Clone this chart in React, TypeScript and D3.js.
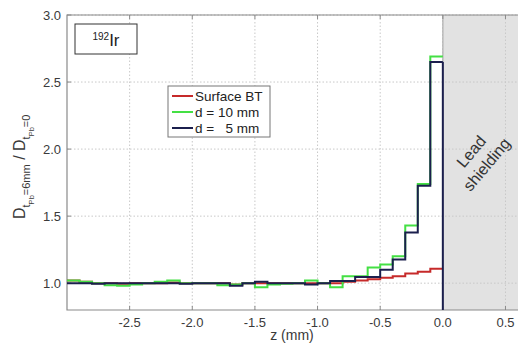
import React from "react";
import * as d3 from "d3";

// Bin left edges (mm), 0.1 mm bins from -3.0 to 0.0
const binStarts: number[] = [
  -3.0, -2.9, -2.8, -2.7, -2.6, -2.5, -2.4, -2.3, -2.2, -2.1,
  -2.0, -1.9, -1.8, -1.7, -1.6, -1.5, -1.4, -1.3, -1.2, -1.1,
  -1.0, -0.9, -0.8, -0.7, -0.6, -0.5, -0.4, -0.3, -0.2, -0.1,
];
const binEnd = 0.0;

const surfaceBT: number[] = [
  1.02, 1.01, 1.0, 1.0, 0.995, 1.0, 1.0, 1.0, 1.005, 1.0,
  1.0, 1.0, 1.0, 0.99, 1.0, 1.0, 1.0, 1.0, 1.0, 1.0,
  1.0, 1.0, 1.01, 1.02, 1.03, 1.04, 1.052, 1.072, 1.085, 1.107,
];
const d10mm: number[] = [
  1.02, 1.01, 1.0, 0.985, 0.98, 0.99, 1.0, 1.01, 1.02, 1.0,
  1.0, 1.0, 0.985, 0.99, 1.0, 0.97, 0.99, 0.995, 1.0, 1.02,
  1.0, 0.97, 1.052, 1.052, 1.117, 1.14, 1.2, 1.43, 1.74, 2.69,
];
const d5mm: number[] = [
  1.0, 1.0, 0.995, 1.0, 1.0, 1.0, 1.0, 1.0, 1.0, 0.995,
  1.0, 1.0, 1.0, 0.98, 1.0, 1.01, 1.0, 1.0, 1.0, 0.99,
  1.0, 1.017, 1.017, 1.047, 1.047, 1.1, 1.177, 1.378, 1.726, 2.65,
];

const seriesNames: string[] = ["Surface BT", "d = 10 mm", "d =   5 mm"];
const seriesColors: string[] = ["#c62a2a", "#44e044", "#1b1f4d"];

const xTicks: number[] = [-2.5, -2.0, -1.5, -1.0, -0.5, 0.0, 0.5];
const yTicks: number[] = [1.0, 1.5, 2.0, 2.5, 3.0];

const W = 518;
const H = 347;
const plot = { left: 67, top: 15, right: 518, bottom: 310 };

const x = d3.scaleLinear().domain([-3.0, 0.6]).range([plot.left, plot.right]);
const y = d3.scaleLinear().domain([0.8, 3.0]).range([plot.bottom, plot.top]);

const stepLine = d3
  .line<[number, number]>()
  .x((d) => x(d[0]))
  .y((d) => y(d[1]))
  .curve(d3.curveStepAfter);

function stepPoints(vals: number[]): [number, number][] {
  const pts: [number, number][] = binStarts.map((b, i) => [b, vals[i]]);
  pts.push([binEnd, vals[vals.length - 1]]);
  return pts;
}

const FONT = "'Liberation Sans', Arial, sans-serif";
const TXT = "#3a3a3a";

export default function App() {
  const series = [surfaceBT, d10mm, d5mm];
  const gridStyle = { stroke: "#c8c8c8", strokeWidth: 1, strokeDasharray: "1.5,2" };
  return (
    <svg
      width={W}
      height={H}
      style={{ position: "absolute", left: 0, top: 0, background: "#fff" }}
      fontFamily={FONT}
    >
      <defs>
        <clipPath id="plotClip">
          <rect x={plot.left} y={plot.top} width={plot.right - plot.left} height={plot.bottom - plot.top} />
        </clipPath>
      </defs>

      {/* lead shielding region */}
      <rect
        x={x(0)}
        y={plot.top}
        width={plot.right - x(0)}
        height={plot.bottom - plot.top}
        fill="#e2e2e2"
      />
      <line x1={x(0)} x2={x(0)} y1={plot.top} y2={plot.bottom} stroke="#9a9a9a" strokeWidth={1} />

      {/* grid */}
      {xTicks.map((t) => (
        <line key={"gx" + t} x1={x(t)} x2={x(t)} y1={plot.top} y2={plot.bottom} {...gridStyle} />
      ))}
      {yTicks.map((t) => (
        <line key={"gy" + t} x1={plot.left} x2={plot.right} y1={y(t)} y2={y(t)} {...gridStyle} />
      ))}

      {/* frame */}
      <path
        d={`M${plot.right},${plot.top}H${plot.left}V${plot.bottom}H${plot.right}`}
        fill="none"
        stroke="#8a8a8a"
        strokeWidth={1.2}
      />
      {/* inward ticks */}
      {xTicks.map((t) => (
        <g key={"tx" + t} stroke="#8a8a8a">
          <line x1={x(t)} x2={x(t)} y1={plot.bottom} y2={plot.bottom - 4} />
          <line x1={x(t)} x2={x(t)} y1={plot.top} y2={plot.top + 4} />
        </g>
      ))}
      {yTicks.map((t) => (
        <line key={"ty" + t} x1={plot.left} x2={plot.left + 4} y1={y(t)} y2={y(t)} stroke="#8a8a8a" />
      ))}

      {/* data */}
      <g clipPath="url(#plotClip)">
        {series.map((vals, i) => (
          <path
            key={seriesNames[i]}
            d={stepLine(stepPoints(vals)) || ""}
            fill="none"
            stroke={seriesColors[i]}
            strokeWidth={2}
          />
        ))}
        <line
          x1={x(binEnd)}
          x2={x(binEnd)}
          y1={y(d5mm[d5mm.length - 1])}
          y2={plot.bottom}
          stroke={seriesColors[2]}
          strokeWidth={2}
        />
      </g>

      {/* tick labels */}
      {xTicks.map((t) => (
        <text key={"lx" + t} x={x(t)} y={327} textAnchor="middle" fontSize={13} fill={TXT}>
          {d3.format(".1f")(t).replace("−", "-")}
        </text>
      ))}
      {yTicks.map((t) => (
        <text key={"ly" + t} x={61} y={y(t) + 4.5} textAnchor="end" fontSize={13} fill={TXT}>
          {d3.format(".1f")(t)}
        </text>
      ))}

      {/* axis titles */}
      <text x={292} y={340} textAnchor="middle" fontSize={14} fill={TXT}>
        z (mm)
      </text>
      <text transform="translate(25,219) rotate(-90)" textAnchor="start" fontSize={16} fill={TXT}>
        <tspan>D</tspan>
        <tspan fontSize={11} dy={5}>t</tspan>
        <tspan fontSize={7.5} dy={4}>Pb</tspan>
        <tspan fontSize={11} dy={-4}>=6mm</tspan>
        <tspan fontSize={16} dy={-5}>{" / D"}</tspan>
        <tspan fontSize={11} dy={5}>t</tspan>
        <tspan fontSize={7.5} dy={4}>Pb</tspan>
        <tspan fontSize={11} dy={-4}>=0</tspan>
      </text>

      {/* isotope label */}
      <rect x={75} y={24} width={62} height={30} fill="#fff" stroke="#333" strokeWidth={1} />
      <text x={106} y={46} textAnchor="middle" fill="#222">
        <tspan fontSize={10} dy={-6}>192</tspan>
        <tspan fontSize={17} dy={6}>Ir</tspan>
      </text>

      {/* legend */}
      <rect x={168} y={86} width={102} height={51} fill="#fff" stroke="#777" strokeWidth={1} />
      {seriesNames.map((name, i) => {
        const ly = 96 + i * 16;
        return (
          <g key={"lg" + i}>
            <line x1={172} x2={193} y1={ly} y2={ly} stroke={seriesColors[i]} strokeWidth={2} />
            <text x={195} y={ly + 4.5} fontSize={13.5} fill="#222" style={{ whiteSpace: "pre" }}>
              {name}
            </text>
          </g>
        );
      })}

      {/* shielding label */}
      <g transform="translate(479,158) rotate(-50)">
        <text x={0} y={-4.5} textAnchor="middle" fontSize={16} fill="#333">
          Lead
        </text>
        <text x={0} y={15.5} textAnchor="middle" fontSize={16} fill="#333">
          shielding
        </text>
      </g>
    </svg>
  );
}
